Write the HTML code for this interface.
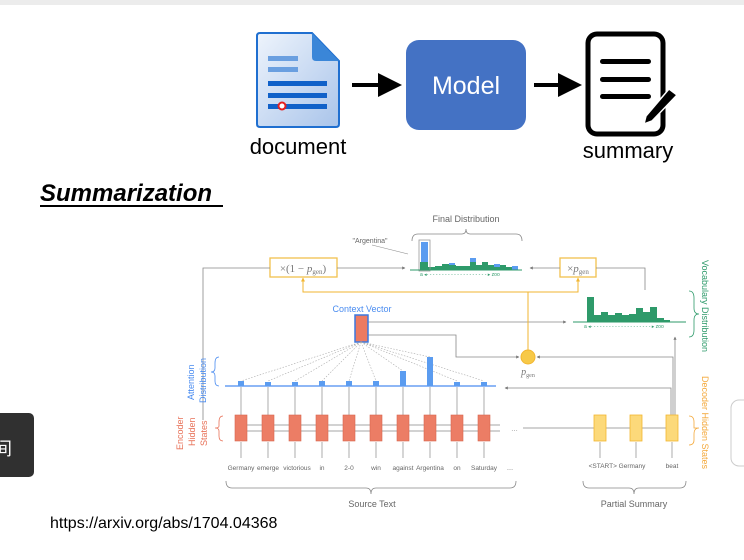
<!DOCTYPE html>
<html><head><meta charset="utf-8"><style>
html,body{margin:0;padding:0;width:744px;height:560px;overflow:hidden;background:#fff;font-family:"Liberation Sans","Noto Sans CJK SC",sans-serif}
svg{position:absolute;left:0;top:0}
</style></head><body>
<svg width="744" height="560" viewBox="0 0 744 560" xmlns="http://www.w3.org/2000/svg" font-family="Liberation Sans, sans-serif">
<defs>
<marker id="ah" markerWidth="6" markerHeight="6" refX="5" refY="3" orient="auto"><path d="M0,0 L6,3 L0,6z" fill="#000"/></marker>
<marker id="ag" markerWidth="4" markerHeight="4" refX="3.5" refY="2" orient="auto"><path d="M0,0 L4,2 L0,4z" fill="#777"/></marker>
<marker id="ay" markerWidth="4" markerHeight="4" refX="3.5" refY="2" orient="auto"><path d="M0,0 L4,2 L0,4z" fill="#f2b630"/></marker>
<linearGradient id="dg" x1="0" y1="0" x2="1" y2="1"><stop offset="0" stop-color="#eef4fc"/><stop offset="1" stop-color="#a9c4ea"/></linearGradient>
</defs>
<rect x="0" y="0" width="744" height="5" fill="#ececec"/>
<!-- document icon -->
<path d="M260,33 H312 L339,61 V124 Q339,127 336,127 H260 Q257,127 257,124 V36 Q257,33 260,33z" fill="url(#dg)" stroke="#1f6fd0" stroke-width="2"/>
<path d="M312,33 L312,57 Q312,61 316,61 L339,61z" fill="#3a86d8"/>
<rect x="268" y="56" width="30" height="5" fill="#6a9fe0"/>
<rect x="268" y="67" width="30" height="5" fill="#6a9fe0"/>
<rect x="268" y="81" width="59" height="5" fill="#1061c9"/>
<rect x="268" y="93" width="59" height="5" fill="#1061c9"/>
<rect x="268" y="104" width="59" height="5" fill="#1061c9"/>
<circle cx="282" cy="106" r="3.5" fill="#fff" stroke="#e52020" stroke-width="2"/>
<line x1="352" y1="85" x2="398" y2="85" stroke="#000" stroke-width="4" marker-end="url(#ah)"/>
<rect x="406" y="40" width="120" height="90" rx="13" fill="#4472c4"/>
<text x="466" y="94" font-size="25" fill="#fff" text-anchor="middle" font-family="Liberation Sans, sans-serif">Model</text>
<line x1="534" y1="85" x2="578" y2="85" stroke="#000" stroke-width="4" marker-end="url(#ah)"/>
<rect x="588" y="34" width="75" height="100" rx="9" fill="#fff" stroke="#000" stroke-width="5"/>
<rect x="600" y="59" width="51" height="5" rx="2.5"/>
<rect x="600" y="77" width="51" height="5" rx="2.5"/>
<rect x="600" y="94" width="51" height="5" rx="2.5"/>
<path d="M669,89 L677,95 L652,121 L644,124 L646,116z" fill="#000" stroke="#fff" stroke-width="1.5"/>
<text x="298" y="154" font-size="22" text-anchor="middle">document</text>
<text x="628" y="158" font-size="22" text-anchor="middle">summary</text>
<text x="40" y="201" font-size="24" font-weight="bold" font-style="italic">Summarization</text>
<rect x="40" y="205" width="183" height="2" fill="#000"/>

<!-- diagram -->
<g font-size="7" fill="#666">
<text x="466" y="222" font-size="9" text-anchor="middle" fill="#666">Final Distribution</text>
<path d="M412,241 Q412,234 418,234 H462 Q466,234 466,229 Q466,234 470,234 H516 Q522,234 522,241" fill="none" stroke="#888" stroke-width="0.8"/>
<text x="370" y="243" text-anchor="middle">"Argentina"</text>
<line x1="408" y1="254" x2="372" y2="245" stroke="#888" stroke-width="0.6"/>
</g>
<g fill="#2e9a6a">
<rect x="420" y="262" width="8" height="8"/><rect x="428" y="267" width="7" height="3"/><rect x="435" y="266" width="7" height="4"/><rect x="442" y="264" width="7" height="6"/><rect x="449" y="265" width="7" height="5"/><rect x="456" y="266" width="7" height="4"/><rect x="463" y="266" width="7" height="4"/><rect x="470" y="262" width="6" height="8"/><rect x="476" y="265" width="6" height="5"/><rect x="482" y="262" width="6" height="8"/><rect x="488" y="265" width="6" height="5"/><rect x="494" y="267" width="6" height="3"/><rect x="500" y="265" width="6" height="5"/><rect x="506" y="267" width="6" height="3"/>
</g>
<g fill="#5b9cf0">
<rect x="421" y="242" width="7" height="20"/><rect x="449" y="263" width="6" height="2"/><rect x="470" y="258" width="6" height="4"/><rect x="494" y="264" width="6" height="3"/><rect x="512" y="266" width="6" height="4"/>
</g>
<rect x="419" y="240" width="11" height="31" fill="none" stroke="#999" stroke-width="0.8"/>
<line x1="410" y1="270" x2="522" y2="270" stroke="#2e9a6a" stroke-width="1"/>
<text x="420" y="276" font-size="5" fill="#2e9a6a">a ◂- - - - - - - - - - - - - - - - - - - - ▸ zoo</text>
<rect x="270" y="258" width="67" height="19" fill="#fff" stroke="#f2c14e" stroke-width="1.3"/>
<text x="303" y="272" font-size="11" text-anchor="middle" fill="#777" font-family="Liberation Serif, serif">×(1 − <tspan font-style="italic">p</tspan><tspan font-size="7" dy="2">gen</tspan><tspan dy="-2">)</tspan></text>
<rect x="560" y="258" width="36" height="19" fill="#fff" stroke="#f2c14e" stroke-width="1.3"/>
<text x="578" y="272" font-size="11" text-anchor="middle" fill="#777" font-family="Liberation Serif, serif">×<tspan font-style="italic">p</tspan><tspan font-size="7" dy="2">gen</tspan></text>
<g stroke="#888" stroke-width="0.8" fill="none">
<polyline points="203,420 203,268 270,268"/>
<line x1="337" y1="268" x2="405" y2="268" marker-end="url(#ag)"/>
<polyline points="645,290 645,268 596,268"/>
<line x1="560" y1="268" x2="530" y2="268" marker-end="url(#ag)"/>
<line x1="368" y1="322" x2="566" y2="322" marker-end="url(#ag)"/>
<polyline points="368,335 456,335 456,357 519,357" marker-end="url(#ag)"/>
<polyline points="673,415 673,357 537,357" marker-end="url(#ag)"/>
<line x1="675" y1="415" x2="675" y2="337" marker-end="url(#ag)"/>
<polyline points="671,415 671,388 505,388" marker-end="url(#ag)"/>
</g>
<g stroke="#f2b630" stroke-width="1" fill="none">
<polyline points="528,350 528,292 303,292 303,278" marker-end="url(#ay)"/>
<polyline points="528,292 578,292 578,278" marker-end="url(#ay)"/>
</g>
<circle cx="528" cy="357" r="7" fill="#f7c948" stroke="#f2b630"/>
<text x="528" y="375" font-size="10" text-anchor="middle" fill="#777" font-family="Liberation Serif, serif" font-style="italic">p<tspan font-size="6" dy="2" font-style="normal">gen</tspan></text>
<g fill="#2e9a6a">
<rect x="587" y="297" width="7" height="25"/><rect x="594" y="315" width="7" height="7"/><rect x="601" y="312" width="7" height="10"/><rect x="608" y="315" width="7" height="7"/><rect x="615" y="313" width="7" height="9"/><rect x="622" y="315" width="7" height="7"/><rect x="629" y="314" width="7" height="8"/><rect x="636" y="308" width="7" height="14"/><rect x="643" y="312" width="7" height="10"/><rect x="650" y="307" width="7" height="15"/><rect x="657" y="318" width="7" height="4"/><rect x="664" y="320" width="6" height="2"/>
</g>
<line x1="573" y1="322" x2="686" y2="322" stroke="#2e9a6a"/>
<text x="584" y="328" font-size="5" fill="#2e9a6a">a ◂- - - - - - - - - - - - - - - - - - - - ▸ zoo</text>
<path d="M689,291 Q694,291 694,298 V308 Q694,314 699,314 Q694,314 694,320 V330 Q694,337 689,337" fill="none" stroke="#2e9a6a" stroke-width="0.8"/>
<text transform="translate(702,260) rotate(90)" font-size="9" fill="#2e9a6a">Vocabulary Distribution</text>
<text transform="translate(702,376) rotate(90)" font-size="9" fill="#f4a93c">Decoder Hidden States</text>
<path d="M689,416 Q694,416 694,422 V428 Q697,428 699,428 Q694,428 694,434 V440 Q694,445 689,445" fill="none" stroke="#f4a93c" stroke-width="0.8"/>
<text x="362" y="312" font-size="9" fill="#4a8cf0" text-anchor="middle">Context Vector</text>
<rect x="355" y="315" width="13" height="27" fill="#ec7a62" stroke="#3b78e0" stroke-width="1.5"/>
<g stroke="#aaa" stroke-width="0.6" stroke-dasharray="1.5,1.5">
<line x1="361" y1="342" x2="241" y2="381"/><line x1="361" y1="342" x2="268" y2="381"/><line x1="361" y1="342" x2="295" y2="381"/><line x1="361" y1="342" x2="322" y2="381"/><line x1="361" y1="342" x2="349" y2="381"/><line x1="361" y1="342" x2="376" y2="381"/><line x1="361" y1="342" x2="403" y2="371"/><line x1="361" y1="342" x2="430" y2="357"/><line x1="361" y1="342" x2="457" y2="381"/><line x1="361" y1="342" x2="484" y2="381"/>
</g>
<path d="M219,357 Q215,357 215,363 V368 Q215,372 211,372 Q215,372 215,376 V381 Q215,386 219,386" fill="none" stroke="#4a8cf0" stroke-width="0.8"/>
<text transform="translate(194,400) rotate(-90)" font-size="9" fill="#4a8cf0">Attention</text>
<text transform="translate(206,403) rotate(-90)" font-size="9" fill="#4a8cf0">Distribution</text>
<text transform="translate(183,450) rotate(-90)" font-size="9" fill="#e8735a">Encoder</text>
<text transform="translate(195,446) rotate(-90)" font-size="9" fill="#e8735a">Hidden</text>
<text transform="translate(207,446) rotate(-90)" font-size="9" fill="#e8735a">States</text>
<path d="M223,416 Q219,416 219,422 V426 Q219,428 215,428 Q219,428 219,431 V436 Q219,441 223,441" fill="none" stroke="#e8735a" stroke-width="0.8"/>
<line x1="225" y1="386" x2="496" y2="386" stroke="#4a8cf0" stroke-width="1.2"/>
<g fill="#5b9cf0">
<rect x="238" y="381" width="6" height="5"/><rect x="265" y="382" width="6" height="4"/><rect x="292" y="382" width="6" height="4"/><rect x="319" y="381" width="6" height="5"/><rect x="346" y="381" width="6" height="5"/><rect x="373" y="381" width="6" height="5"/><rect x="400" y="371" width="6" height="15"/><rect x="427" y="357" width="6" height="29"/><rect x="454" y="382" width="6" height="4"/><rect x="481" y="382" width="6" height="4"/>
</g>
<g stroke="#888" stroke-width="0.7">
<line x1="241" y1="415" x2="241" y2="387"/><line x1="268" y1="415" x2="268" y2="387"/><line x1="295" y1="415" x2="295" y2="387"/><line x1="322" y1="415" x2="322" y2="387"/><line x1="349" y1="415" x2="349" y2="387"/><line x1="376" y1="415" x2="376" y2="387"/><line x1="403" y1="415" x2="403" y2="387"/><line x1="430" y1="415" x2="430" y2="387"/><line x1="457" y1="415" x2="457" y2="387"/><line x1="484" y1="415" x2="484" y2="387"/>
<line x1="241" y1="458" x2="241" y2="442"/><line x1="268" y1="458" x2="268" y2="442"/><line x1="295" y1="458" x2="295" y2="442"/><line x1="322" y1="458" x2="322" y2="442"/><line x1="349" y1="458" x2="349" y2="442"/><line x1="376" y1="458" x2="376" y2="442"/><line x1="403" y1="458" x2="403" y2="442"/><line x1="430" y1="458" x2="430" y2="442"/><line x1="457" y1="458" x2="457" y2="442"/><line x1="484" y1="458" x2="484" y2="442"/>
<line x1="600" y1="458" x2="600" y2="442"/><line x1="636" y1="458" x2="636" y2="442"/><line x1="672" y1="458" x2="672" y2="442"/>
<line x1="235" y1="425" x2="500" y2="425"/><line x1="235" y1="431" x2="500" y2="431"/>
<line x1="523" y1="428" x2="666" y2="428"/>
</g>
<g fill="#ec7d65" stroke="#d8664e" stroke-width="0.6">
<rect x="235" y="415" width="12" height="26"/><rect x="262" y="415" width="12" height="26"/><rect x="289" y="415" width="12" height="26"/><rect x="316" y="415" width="12" height="26"/><rect x="343" y="415" width="12" height="26"/><rect x="370" y="415" width="12" height="26"/><rect x="397" y="415" width="12" height="26"/><rect x="424" y="415" width="12" height="26"/><rect x="451" y="415" width="12" height="26"/><rect x="478" y="415" width="12" height="26"/>
</g>
<g fill="#fcd97a" stroke="#f2b630" stroke-width="0.8">
<rect x="594" y="415" width="12" height="26"/><rect x="630" y="415" width="12" height="26"/><rect x="666" y="415" width="12" height="26"/>
</g>
<text x="511" y="431" font-size="7" fill="#888">…</text>
<g font-size="6.5" fill="#666" text-anchor="middle">
<text x="241" y="470">Germany</text><text x="268" y="470">emerge</text><text x="297" y="470">victorious</text><text x="322" y="470">in</text><text x="349" y="470">2-0</text><text x="376" y="470">win</text><text x="403" y="470">against</text><text x="430" y="470">Argentina</text><text x="457" y="470">on</text><text x="484" y="470">Saturday</text><text x="510" y="470">…</text>
<text x="617" y="468">&lt;START&gt; Germany</text><text x="672" y="468">beat</text>
</g>
<g fill="none" stroke="#888" stroke-width="0.8">
<path d="M226,481 Q226,488 232,488 H366 Q371,488 371,494 Q371,488 376,488 H510 Q516,488 516,481"/>
<path d="M583,481 Q583,488 589,488 H629 Q634,488 634,494 Q634,488 639,488 H680 Q686,488 686,481"/>
</g>
<text x="372" y="507" font-size="9" fill="#666" text-anchor="middle">Source Text</text>
<text x="634" y="507" font-size="9" fill="#666" text-anchor="middle">Partial Summary</text>

<text x="50" y="528" font-size="16" fill="#000">https://arxiv.org/abs/1704.04368</text>
<rect x="-10" y="413" width="44" height="64" rx="5" fill="#303030"/>
<text x="-6" y="455" font-size="18" fill="#fff" font-family="Noto Sans CJK SC, sans-serif">间</text>
<rect x="731" y="400" width="30" height="66" rx="8" fill="#fff" stroke="#ccc"/>
</svg>
</body></html>
